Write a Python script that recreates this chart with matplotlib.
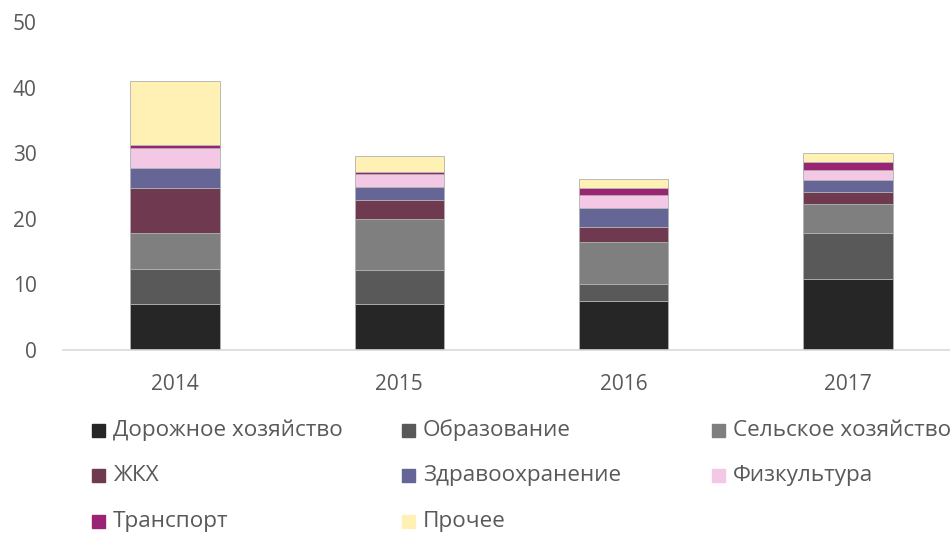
import numpy as np
import matplotlib
matplotlib.use("Agg")
import matplotlib.pyplot as plt
from matplotlib.patches import Rectangle

plt.rcParams['font.family'] = ['Open Sans', 'DejaVu Sans']

years = ["2014", "2015", "2016", "2017"]
categories = ["Дорожное хозяйство", "Образование", "Сельское хозяйство",
              "ЖКХ", "Здравоохранение", "Физкультура",
              "Транспорт", "Прочее"]
colors = ["#262626", "#595959", "#7f7f7f", "#6f3a50",
          "#656696", "#f2c8e4", "#9b2373", "#fff0b4"]

road = [7.0, 7.0, 7.5, 10.8]
education = [5.3, 5.2, 2.6, 7.0]
agriculture = [5.6, 7.7, 6.4, 4.5]
housing = [6.8, 3.0, 2.3, 1.8]
health = [3.0, 2.0, 2.8, 1.8]
sport = [3.1, 1.9, 2.1, 1.5]
transport = [0.5, 0.4, 1.0, 1.2]
other = [9.7, 2.4, 1.4, 1.4]
series = [road, education, agriculture, housing, health, sport, transport, other]

fig = plt.figure(figsize=(9.5, 5.34), dpi=100)
W, H = 950, 534
ax = fig.add_axes([63 / W, 1 - 350 / H, (960 - 63) / W, (350 - 22) / H])

x = np.arange(len(years))
bottom = np.zeros(len(years))
for vals, col in zip(series, colors):
    ax.bar(x, vals, 0.4, bottom=bottom, color=col, edgecolor="#b0b0b0", linewidth=0.6)
    bottom += np.array(vals)

ax.set_xlim(-0.5, 3.5)
ax.set_ylim(0, 50)
ax.set_yticks([0, 10, 20, 30, 40, 50])
ax.set_xticks(x)
ax.set_xticklabels(years)
for s in ["top", "right", "left"]:
    ax.spines[s].set_visible(False)
ax.spines["bottom"].set_color("#d9d9d9")
ax.spines["bottom"].set_linewidth(1.2)
ax.tick_params(axis="both", length=0, labelsize=15, colors="#595959")
ax.tick_params(axis="x", pad=17)
ax.tick_params(axis="y", pad=19)

# legend, row-wise in three columns like the original
for i, (name, col) in enumerate(zip(categories, colors)):
    px = 92 + 310 * (i % 3)
    py = 430 + 45.5 * (i // 3)
    fig.add_artist(Rectangle((px / W, 1 - (py + 6.5) / H), 13 / W, 13 / H,
                             transform=fig.transFigure, color=col))
    fig.text((px + 21) / W, 1 - py / H, name, fontsize=16.2, color="#595959",
             va="center", ha="left")

fig.savefig("out.png", dpi=100)
